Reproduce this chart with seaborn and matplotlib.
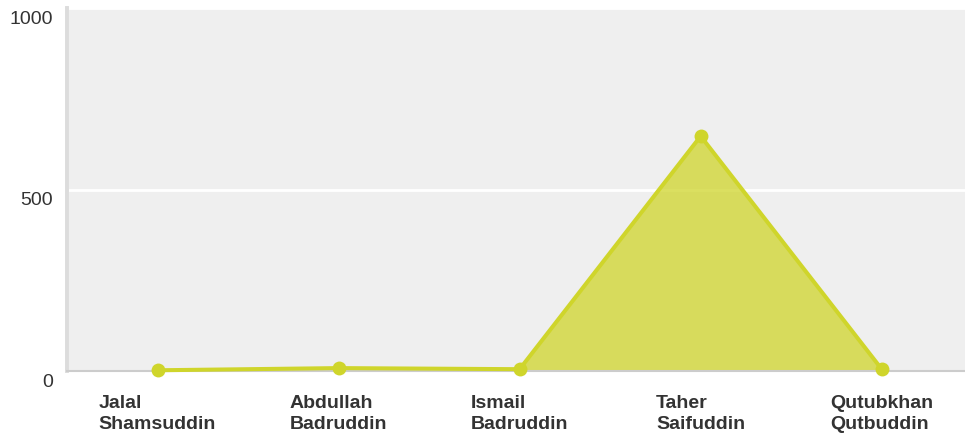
import matplotlib.pyplot as plt
import matplotlib.transforms as mtransforms
import numpy as np
import pandas as pd
import seaborn as sns

names = ["Jalal\nShamsuddin", "Abdullah\nBadruddin", "Ismail\nBadruddin",
         "Taher\nSaifuddin", "Qutubkhan\nQutbuddin"]
values = [2, 8, 5, 647, 5]
yticks = [0, 500, 1000]

line_col = "#cfd52b"
bg_col = "#efefef"

sns.set_style("white")
plt.rcParams["font.family"] = ["Liberation Sans", "DejaVu Sans"]

df = pd.DataFrame({"name": names, "value": values})

fig = plt.figure(figsize=(9.65, 4.45), dpi=100)
ax = fig.add_axes([67 / 965, 74 / 445, 898 / 965, 363 / 445])
ax.set_facecolor(bg_col)

pos = np.arange(len(names))
ax.fill_between(pos, 0, df["value"], color=line_col, alpha=0.75, lw=0, zorder=2)
sns.lineplot(data=df, x="name", y="value", ax=ax, color=line_col, lw=2.9,
             marker="o", markersize=10, markeredgewidth=0, sort=False,
             clip_on=False, zorder=3)

ax.set_xlim(-0.5, 4.46)
ax.set_ylim(0, 1000)
ax.set_yticks(yticks)
ax.set_yticklabels([str(t) for t in yticks])
ax.grid(axis="y", color="white", lw=2, zorder=1)
ax.grid(axis="x", visible=False)
ax.set_axisbelow(True)
ax.set_xlabel("")
ax.set_ylabel("")

for s in ["top", "right"]:
    ax.spines[s].set_visible(False)
ax.spines["left"].set_color("#dcdcdc")
ax.spines["left"].set_linewidth(2.8)
ax.spines["bottom"].set_color("#cccccc")
ax.spines["bottom"].set_linewidth(1.5)

ax.tick_params(axis="both", length=0)
ax.tick_params(axis="y", pad=10, labelsize=14, labelcolor="#333333")
ax.tick_params(axis="x", pad=17, labelsize=14, labelcolor="#333333")

# nudge y labels a little below the gridlines
shift = mtransforms.ScaledTranslation(0, -2 / 72, fig.dpi_scale_trans)
for lab in ax.get_yticklabels():
    lab.set_va("top")
    lab.set_transform(lab.get_transform() + shift)
for lab in ax.get_xticklabels():
    lab.set_fontweight("bold")
    lab.set_multialignment("left")
    lab.set_linespacing(1.3)

fig.savefig("out.png", dpi=100)
